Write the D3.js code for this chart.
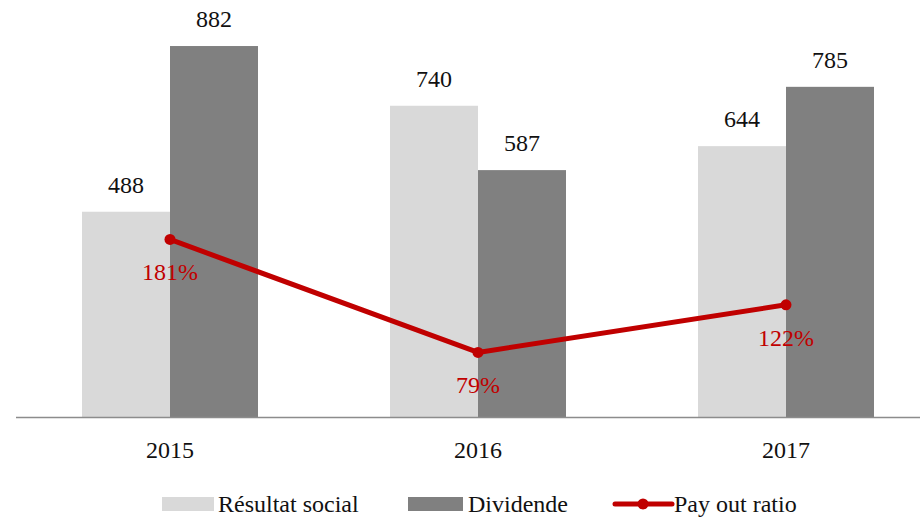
<!DOCTYPE html>
<html>
<head>
<meta charset="utf-8">
<script src="https://cdn.jsdelivr.net/npm/d3@7"></script>
<style>
  body { margin: 0; background: #fff; }
</style>
</head>
<body>
<svg id="chart" width="920" height="519"></svg>
<script>
// data
const years = ["2015", "2016", "2017"];
const resultat = [488, 740, 644];
const dividende = [882, 587, 785];
const payout = [181, 79, 122];
const seriesNames = ["Résultat social", "Dividende"];

const W = 920;
const baseY = 417;
const FONT = "'Liberation Serif', 'Times New Roman', Times, 'DejaVu Serif', serif";
const svg = d3.select("#chart").attr("font-family", FONT);

// scales
const x0 = d3.scaleBand().domain(years).range([16, 940]).padding(0);
const x1 = d3.scaleBand().domain(seriesNames).range([0, x0.bandwidth()]).paddingOuter(0.75).paddingInner(0);
const y = d3.scaleLinear().domain([0, 1000]).range([baseY, baseY - 420.6]);
const y2 = d3.scaleLinear().domain([0, 400]).range([440, -3.2]);
const colors = { "Résultat social": "#d9d9d9", "Dividende": "#808080" };
const red = "#c00000";

const rows = years.map((yr, i) => ({ year: yr, vals: [
  { key: "Résultat social", v: resultat[i] },
  { key: "Dividende", v: dividende[i] }
], pct: payout[i] }));

// bars
const g = svg.selectAll("g.year").data(rows).enter().append("g")
  .attr("class", "year")
  .attr("transform", d => "translate(" + x0(d.year) + ",0)");

g.selectAll("rect").data(d => d.vals).enter().append("rect")
  .attr("x", d => x1(d.key))
  .attr("y", d => y(d.v))
  .attr("width", x1.bandwidth())
  .attr("height", d => baseY - y(d.v))
  .attr("fill", d => colors[d.key]);

g.selectAll("text.val").data(d => d.vals).enter().append("text")
  .attr("class", "val")
  .attr("x", d => x1(d.key) + x1.bandwidth() / 2)
  .attr("y", d => y(d.v) - 19)
  .attr("text-anchor", "middle")
  .attr("font-family", FONT)
  .attr("font-size", 24)
  .attr("fill", "#111")
  .text(d => d.v);

// axis line
svg.append("line")
  .attr("x1", 16).attr("x2", W)
  .attr("y1", baseY + 0.5).attr("y2", baseY + 0.5)
  .attr("stroke", "#8c8c8c").attr("stroke-width", 1.5);

// x labels
svg.selectAll("text.xl").data(years).enter().append("text")
  .attr("class", "xl")
  .attr("x", d => x0(d) + x0.bandwidth() / 2)
  .attr("y", 458)
  .attr("text-anchor", "middle")
  .attr("font-family", FONT)
  .attr("font-size", 24)
  .attr("fill", "#111")
  .text(d => d);

// payout line
const cx = d => x0(d.year) + x0.bandwidth() / 2;
const line = d3.line().x(cx).y(d => y2(d.pct));
svg.append("path").datum(rows)
  .attr("d", line)
  .attr("fill", "none")
  .attr("stroke", red)
  .attr("stroke-width", 5)
  .attr("stroke-linejoin", "round");

svg.selectAll("circle.pt").data(rows).enter().append("circle")
  .attr("class", "pt")
  .attr("cx", cx)
  .attr("cy", d => y2(d.pct))
  .attr("r", 5.5)
  .attr("fill", red);

svg.selectAll("text.pct").data(rows).enter().append("text")
  .attr("class", "pct")
  .attr("x", cx)
  .attr("y", d => y2(d.pct) + 41)
  .attr("text-anchor", "middle")
  .attr("font-family", FONT)
  .attr("font-size", 24)
  .attr("fill", red)
  .text(d => d.pct + "%");

// legend
const leg = svg.append("g").attr("font-family", FONT).attr("font-size", 24).attr("fill", "#111");
const legY = 504;
leg.append("rect").attr("x", 162).attr("y", legY - 7).attr("width", 52).attr("height", 14).attr("fill", colors["Résultat social"]);
leg.append("text").attr("x", 218).attr("y", legY + 8).text("Résultat social");
leg.append("rect").attr("x", 408).attr("y", legY - 7).attr("width", 55).attr("height", 14).attr("fill", colors["Dividende"]);
leg.append("text").attr("x", 468).attr("y", legY + 8).text("Dividende");
leg.append("line").attr("x1", 615).attr("x2", 672).attr("y1", legY).attr("y2", legY)
  .attr("stroke", red).attr("stroke-width", 5).attr("stroke-linecap", "round");
leg.append("circle").attr("cx", 643).attr("cy", legY).attr("r", 5.5).attr("fill", red);
leg.append("text").attr("x", 674).attr("y", legY + 8).text("Pay out ratio");
</script>
</body>
</html>
